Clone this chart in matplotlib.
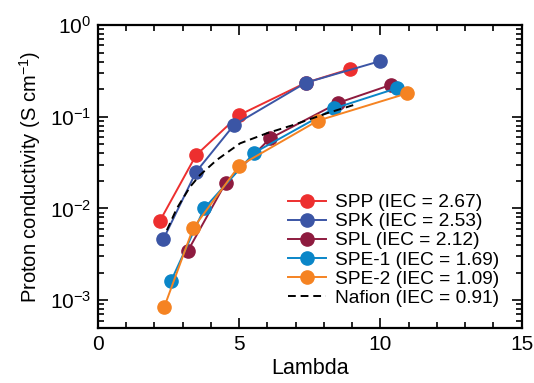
import math
import matplotlib
matplotlib.use("Agg")
import matplotlib.pyplot as plt
from matplotlib.ticker import FixedLocator, FuncFormatter, LogLocator, NullFormatter

plt.rcParams['font.family'] = ['Liberation Sans', 'DejaVu Sans']
plt.rcParams['mathtext.fontset'] = 'custom'
plt.rcParams['mathtext.rm'] = 'Liberation Sans'
plt.rcParams['mathtext.it'] = 'Liberation Sans:italic'

# Proton conductivity vs. water uptake (lambda)
spp_lambda = [2.19, 3.47, 4.99, 7.36, 8.92]
spp_sigma = [0.0073, 0.038, 0.104, 0.235, 0.331]

spk_lambda = [2.31, 3.47, 4.81, 7.36, 10.0]
spk_sigma = [0.0046, 0.025, 0.081, 0.235, 0.405]

spl_lambda = [3.17, 4.52, 6.09, 8.51, 10.36]
spl_sigma = [0.0034, 0.019, 0.058, 0.142, 0.222]

spe1_lambda = [2.58, 3.76, 5.53, 8.35, 10.57]
spe1_sigma = [0.0016, 0.010, 0.0405, 0.123, 0.204]

spe2_lambda = [2.35, 3.37, 4.99, 7.78, 10.95]
spe2_sigma = [0.00085, 0.0061, 0.029, 0.0905, 0.180]

nafion_lambda = [2.44, 2.79, 3.26, 3.61, 4.20, 5.03, 5.97, 6.91, 8.10, 9.04]
nafion_sigma = [0.0058, 0.010, 0.0172, 0.0231, 0.0337, 0.0513, 0.0659, 0.0812, 0.109, 0.134]

labels = ["SPP (IEC = 2.67)", "SPK (IEC = 2.53)", "SPL (IEC = 2.12)",
          "SPE-1 (IEC = 1.69)", "SPE-2 (IEC = 1.09)", "Nafion (IEC = 0.91)"]
colors = ["#ED2F2F", "#3B55A5", "#8E1B3F", "#0A86C8", "#F58322"]

fig = plt.figure(figsize=(5.34, 3.83), dpi=100)
ax = fig.add_axes([0.1835, 0.1444, 0.977 - 0.1835, 0.9347 - 0.1444])

series = [(spp_lambda, spp_sigma), (spk_lambda, spk_sigma), (spl_lambda, spl_sigma),
          (spe1_lambda, spe1_sigma), (spe2_lambda, spe2_sigma)]
for (xs, ys), c, lab in zip(series, colors, labels[:5]):
    ax.plot(xs, ys, '-o', color=c, lw=1.4, ms=9.5, mec=c, label=lab)

ax.plot(nafion_lambda, nafion_sigma, '--', color='black', lw=1.4,
        dashes=(4, 2.5), label=labels[5])

ax.set_yscale('log')
ax.set_xlim(0, 15)
ax.set_ylim(10 ** -3.30, 1.0)

ax.xaxis.set_major_locator(FixedLocator([0, 5, 10, 15]))
ax.xaxis.set_minor_locator(FixedLocator(range(0, 16)))
ax.yaxis.set_major_locator(FixedLocator([1e-3, 1e-2, 1e-1, 1e0]))
ax.yaxis.set_minor_locator(LogLocator(base=10, subs=range(2, 10)))
ax.yaxis.set_minor_formatter(NullFormatter())
ax.yaxis.set_major_formatter(FuncFormatter(
    lambda v, p: r'$\mathregular{10^{%d}}$' % round(math.log10(v))))

ax.tick_params(which='both', direction='in', top=True, right=True,
               labelsize=15, width=1.2)
ax.tick_params(which='major', length=7, pad=5)
ax.tick_params(which='minor', length=4)
for s in ax.spines.values():
    s.set_linewidth(1.6)

ax.set_xlabel("Lambda", fontsize=15.5, labelpad=3)
ax.set_ylabel(r"Proton conductivity (S cm$^{-1}$)", fontsize=14.5, labelpad=5)

ax.legend(loc='lower right', bbox_to_anchor=(0.978, 0.025), frameon=False,
          fontsize=13.75, handlelength=2.0, handletextpad=0.45,
          labelspacing=0.09, borderpad=0.2)

fig.savefig("out.png", dpi=100)
